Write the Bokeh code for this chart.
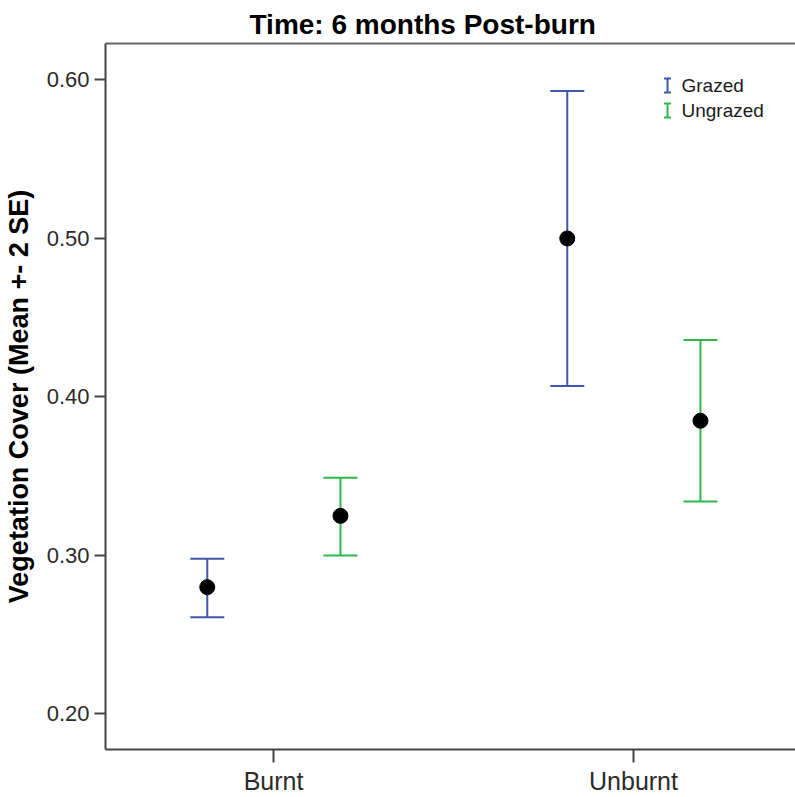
from bokeh.plotting import figure
from bokeh.models import ColumnDataSource, LinearAxis, FixedTicker, Range1d
from bokeh.core.properties import value
from bokeh.embed import file_html
from bokeh.resources import INLINE

# ---- data ----
categories = ["Burnt", "Unburnt"]
groups = ["Grazed", "Ungrazed"]
grazed_mean = [0.280, 0.500]
grazed_lower = [0.261, 0.407]
grazed_upper = [0.298, 0.593]
ungrazed_mean = [0.325, 0.385]
ungrazed_lower = [0.300, 0.334]
ungrazed_upper = [0.349, 0.436]
y_ticks = [0.20, 0.30, 0.40, 0.50, 0.60]
y_tick_labels = ["0.20", "0.30", "0.40", "0.50", "0.60"]

colors = {"Grazed": "#3E58AC", "Ungrazed": "#2EB848"}
dodge = {"Grazed": -0.184, "Ungrazed": 0.186}

W, H = 795, 797
LEFT, TOP, BOTTOM = 105, 43, 48
X0, X1 = -0.4667, 1.4500
Y0, Y1 = 0.1776, 0.623

p = figure(width=W, height=H, output_backend="svg", toolbar_location=None,
           x_range=Range1d(X0, X1), y_range=Range1d(Y0, Y1),
           min_border_left=LEFT, min_border_right=0, min_border_top=TOP,
           min_border_bottom=BOTTOM, x_axis_location=None, y_axis_location=None)
p.outline_line_color = None
p.grid.visible = False
p.background_fill_color = "white"
p.border_fill_color = "white"

series = {
    "Grazed": (grazed_mean, grazed_lower, grazed_upper),
    "Ungrazed": (ungrazed_mean, ungrazed_lower, ungrazed_upper),
}
for g in groups:
    m, lo, hi = series[g]
    xs = [i + dodge[g] for i in range(len(categories))]
    src = ColumnDataSource(dict(x=xs, mean=m, lower=lo, upper=hi))
    p.segment(x0="x", y0="lower", x1="x", y1="upper", source=src,
              line_color=colors[g], line_width=2)
    p.scatter(x="x", y="upper", source=src, marker="dash", size=34,
              line_color=colors[g], line_width=2)
    p.scatter(x="x", y="lower", source=src, marker="dash", size=34,
              line_color=colors[g], line_width=2)
    p.scatter(x="x", y="mean", source=src, marker="circle", size=15,
              fill_color="black", line_color="black", line_width=1)

# axes
yax = LinearAxis(ticker=FixedTicker(ticks=y_ticks),
                 major_label_overrides={t: l for t, l in zip(y_ticks, y_tick_labels)})
yax.axis_label = "Vegetation Cover (Mean +- 2 SE)"
yax.axis_label_text_font = "Liberation Sans"
yax.axis_label_text_font_style = "bold"
yax.axis_label_text_font_size = "27px"
yax.axis_label_text_color = "black"
yax.axis_label_standoff = 10
yax.major_label_text_font = "Liberation Sans"
yax.major_label_text_font_size = "22px"
yax.major_label_text_color = "#2b2b2b"
yax.major_label_standoff = 5
yax.major_tick_out = 11
yax.major_tick_in = 0
yax.minor_tick_line_color = None
yax.axis_line_color = "#444444"
yax.axis_line_width = 2
yax.major_tick_line_color = "#444444"
yax.major_tick_line_width = 2
p.add_layout(yax, "left")

xax = LinearAxis(ticker=FixedTicker(ticks=list(range(len(categories)))),
                 major_label_overrides={i: c for i, c in enumerate(categories)})
xax.major_label_text_font = "Liberation Sans"
xax.major_label_text_font_size = "25px"
xax.major_label_text_color = "#2b2b2b"
xax.major_label_standoff = 4
xax.major_tick_out = 13
xax.major_tick_in = 0
xax.minor_tick_line_color = None
xax.axis_line_color = "#444444"
xax.axis_line_width = 2
xax.major_tick_line_color = "#444444"
xax.major_tick_line_width = 2
p.add_layout(xax, "below")

tax = LinearAxis(ticker=FixedTicker(ticks=[]))
tax.major_label_text_font_size = "0px"
tax.major_tick_line_color = None
tax.minor_tick_line_color = None
tax.major_tick_out = 0
tax.major_label_standoff = 0
tax.axis_line_color = "#666666"
tax.axis_line_width = 2
p.add_layout(tax, "above")

# title
p.title.text = "Time: 6 months Post-burn"
p.title.text_font = "Liberation Sans"
p.title.text_font_style = "bold"
p.title.text_font_size = "28px"
p.title.text_color = "black"
p.title.align = "left"
p.title.offset = 144
p.title.standoff = 8
p.title_location = "above"

# legend (manual, I-beam glyphs)
def px_x(px):
    return X0 + (px - LEFT) * (X1 - X0) / (W - LEFT)

def px_y(py):
    fh = H - TOP - BOTTOM
    return Y1 - (py - TOP) * (Y1 - Y0) / fh

leg_glyph_x = px_x(667)
leg_text_x = px_x(681)
leg_rows_px = [85, 110]
half_h = (px_y(78) - px_y(92)) / 2
for g, ry in zip(groups, leg_rows_px):
    yc = px_y(ry)
    src = ColumnDataSource(dict(x=[leg_glyph_x], y0=[yc - half_h], y1=[yc + half_h],
                                tx=[leg_text_x], ty=[yc], label=[g]))
    p.segment(x0="x", y0="y0", x1="x", y1="y1", source=src,
              line_color=colors[g], line_width=2)
    p.scatter(x="x", y="y0", source=src, marker="dash", size=7,
              line_color=colors[g], line_width=2)
    p.scatter(x="x", y="y1", source=src, marker="dash", size=7,
              line_color=colors[g], line_width=2)
    p.text(x="tx", y="ty", text="label", source=src, text_font=value("Liberation Sans"),
           text_font_size="19px", text_baseline="middle", text_align="left",
           text_color="#1a1a1a")

open("out.html", "w").write(file_html(p, INLINE))
